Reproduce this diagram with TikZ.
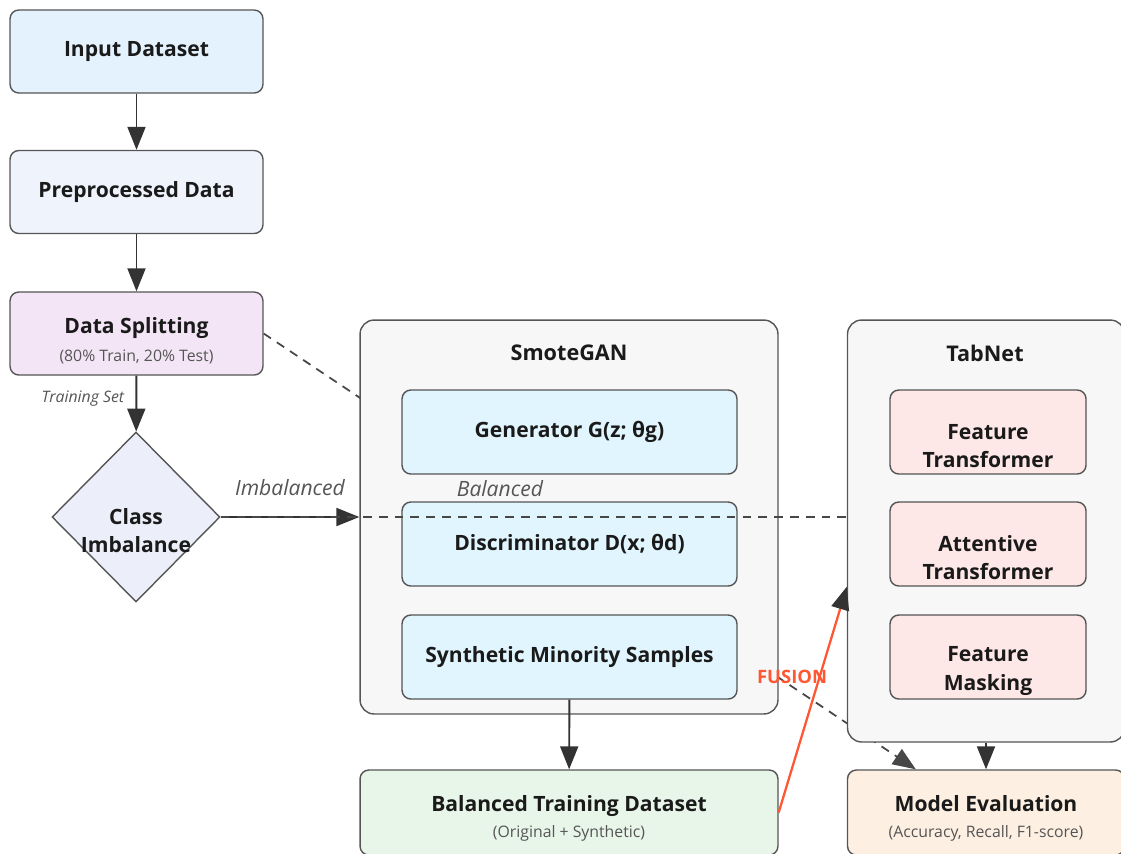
\documentclass[tikz,border=0pt]{standalone}
\usepackage{fontspec}
\setmainfont{Open Sans}
\usetikzlibrary{arrows.meta,shapes.geometric,backgrounds}

\definecolor{lineclr}{HTML}{333333}
\definecolor{edgeclr}{HTML}{555555}
\definecolor{txtclr}{HTML}{1A1A1A}
\definecolor{inputclr}{HTML}{E3F2FD}
\definecolor{prepclr}{HTML}{EEF3FC}
\definecolor{splitclr}{HTML}{F3E5F5}
\definecolor{diamclr}{HTML}{ECEFFA}
\definecolor{groupclr}{HTML}{F7F7F7}
\definecolor{ganclr}{HTML}{E1F5FE}
\definecolor{tabclr}{HTML}{FDE7E7}
\definecolor{balclr}{HTML}{E8F5E9}
\definecolor{evalclr}{HTML}{FDF0E3}
\definecolor{fusionclr}{HTML}{FF5733}

\newcommand{\subtxt}[1]{{\normalfont\fontsize{9}{11}\selectfont\color{edgeclr}#1}}

\begin{document}
\begin{tikzpicture}[x=0.02cm,y=-0.02cm,
    box/.style={draw=edgeclr, line width=0.8pt, rounded corners=5pt, align=center,
        text=txtclr, font=\bfseries\fontsize{12}{16}\selectfont,
        minimum width=5.06cm, minimum height=1.66cm},
    group/.style={draw=edgeclr, line width=0.8pt, rounded corners=8pt, fill=groupclr},
    gan/.style={box, fill=ganclr, minimum width=6.7cm, minimum height=1.68cm},
    tab/.style={box, fill=tabclr, minimum width=3.92cm, minimum height=1.68cm},
    inlbl/.style={align=center, text=txtclr, font=\bfseries\fontsize{12}{16}\selectfont, yshift=-0.28cm},
    decision/.style={diamond, draw=edgeclr, line width=0.8pt, fill=diamclr, inner sep=0pt,
        minimum width=3.36cm, minimum height=3.4cm},
    title/.style={text=txtclr, font=\bfseries\fontsize{12.3}{14}\selectfont},
    flowlbl/.style={text=edgeclr, font=\itshape\fontsize{12}{14}\selectfont},
    arr/.style={draw=lineclr, line width=1.1pt, -{Triangle[width=0.36cm,length=0.46cm]}},
    dashline/.style={draw=lineclr!90, line width=1pt, dash pattern=on 5pt off 4pt}]

    \useasboundingbox (0,0) rectangle (1121,853);

    % left column
    \node [box, fill=inputclr] (input) at (136.5,51.5) {Input Dataset};
    \node [box, fill=prepclr] (prep) at (136.5,192) {Preprocessed Data};
    \node [box, fill=splitclr, label={[inlbl, yshift=0.14cm]center:Data Splitting\\[0pt]\subtxt{(80\% Train, 20\% Test)}}] (split) at (136.5,333.5) {};
    \node [decision, label={[inlbl]center:Class\\Imbalance}] (imb) at (136,517) {};

    % SmoteGAN
    \node [group, minimum width=8.36cm, minimum height=7.88cm] (smote) at (569,517) {};
    \node [title] (smotetitle) at (569,353) {SmoteGAN};
    \node [gan] (gen) at (569.5,432) {Generator G(z; θg)};
    \node [gan] (disc) at (569.5,544) {Discriminator D(x; θd)};
    \node [gan] (synth) at (569.5,657) {Synthetic Minority Samples};

    % TabNet
    \node [group, minimum width=5.54cm, minimum height=8.44cm] (tabnet) at (986,531) {};
    \node [title] (tabtitle) at (985,353) {TabNet};
    \node [tab, label={[inlbl]center:Feature\\Transformer}] (ft) at (988,432) {};
    \node [tab, label={[inlbl]center:Attentive\\Transformer}] (attn) at (988,544) {};
    \node [tab, label={[inlbl]center:Feature\\Masking}] (mask) at (988,657) {};

    % bottom row
    \node [box, fill=balclr, minimum width=8.36cm, minimum height=1.7cm, label={[inlbl, yshift=0.16cm]center:Balanced Training Dataset\\[-1pt]\subtxt{(Original + Synthetic)}}] (bal) at (569,812.5) {};
    \node [box, fill=evalclr, minimum width=5.54cm, minimum height=1.7cm, label={[inlbl, yshift=0.16cm]center:Model Evaluation\\[-1pt]\subtxt{(Accuracy, Recall, F1-score)}}] (eval) at (986,812.5) {};

    % test set, behind the groups
    \begin{pgfonlayer}{background}
    \draw [dashline, -{Triangle[width=0.36cm,length=0.46cm]}] (split.east) -- ([xshift=1.38cm]eval.north west);
    \end{pgfonlayer}

    \draw [arr] (input) -- (prep);
    \draw [arr] (prep) -- (split);
    \draw [arr] (split) -- node [left, xshift=-3pt, yshift=3pt, text=edgeclr, font=\itshape\fontsize{9}{10}\selectfont] {Training Set} (imb);
    \draw [arr] (imb.east) -- node [above, yshift=8pt, flowlbl] {Imbalanced} (smote.west);
    \draw [dashline] (imb.east) -- node [pos=0.446, above, yshift=8pt, flowlbl] {Balanced} (tabnet.west |- imb.east);
    \draw [arr] (synth) -- (bal);
    \draw [arr] (tabnet) -- (eval);

    \draw [fusionclr, line width=1.3pt, -{Triangle[width=0.36cm,length=0.46cm,color=lineclr]}] (bal.east) -- node [pos=0.6, xshift=-0.55cm, text=fusionclr, font=\bfseries\fontsize{10.5}{12}\selectfont] {FUSION} (tabnet.west |- attn.south);

\end{tikzpicture}
\end{document}
